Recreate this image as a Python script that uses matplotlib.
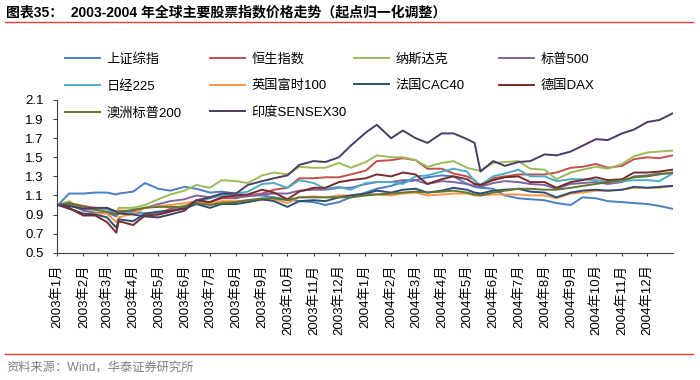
"""
2003-2004 global equity indices, rebased to 1 at the start of 2003.
"""

import matplotlib
matplotlib.use("Agg")
import matplotlib.dates as mdates
import matplotlib.pyplot as plt
import pandas as pd
from matplotlib.lines import Line2D
from matplotlib.ticker import FuncFormatter

plt.rcParams["font.family"] = ["Liberation Sans", "Noto Sans CJK SC"]
plt.rcParams["axes.unicode_minus"] = False

# --- data (semi-monthly samples) ---
DATES = [
    "2003-01-02", "2003-01-15", "2003-02-01", "2003-02-15", "2003-03-01",
    "2003-03-12", "2003-03-15", "2003-04-01", "2003-04-15", "2003-05-01",
    "2003-05-15", "2003-06-01", "2003-06-15", "2003-07-01", "2003-07-15",
    "2003-08-01", "2003-08-15", "2003-09-01", "2003-09-15", "2003-10-01",
    "2003-10-15", "2003-11-01", "2003-11-15", "2003-12-01", "2003-12-15",
    "2004-01-02", "2004-01-15", "2004-02-01", "2004-02-15", "2004-03-01",
    "2004-03-15", "2004-04-01", "2004-04-15", "2004-05-01", "2004-05-10",
    "2004-05-17", "2004-06-01", "2004-06-15", "2004-07-01", "2004-07-15",
    "2004-08-01", "2004-08-15", "2004-09-01", "2004-09-15", "2004-10-01",
    "2004-10-15", "2004-11-01", "2004-11-15", "2004-12-01", "2004-12-15",
    "2004-12-31",
]

shanghai = [1.00, 1.12, 1.12, 1.13, 1.13, 1.11, 1.12, 1.14, 1.23, 1.17, 1.15,
            1.19, 1.17, 1.13, 1.14, 1.12, 1.10, 1.10, 1.08, 1.06, 1.04,
            1.03, 1.00, 1.03, 1.08, 1.13, 1.17, 1.20, 1.24, 1.26, 1.29,
            1.31, 1.30, 1.22, 1.19, 1.18, 1.17, 1.10, 1.07, 1.06, 1.05,
            1.02, 1.00, 1.08, 1.07, 1.04, 1.03, 1.02, 1.01, 0.99, 0.96]
hangseng = [1.00, 1.02, 0.99, 0.97, 0.96, 0.93, 0.94, 0.94, 0.91, 0.91, 0.96,
            0.99, 1.03, 1.03, 1.07, 1.07, 1.10, 1.12, 1.16, 1.18, 1.28,
            1.28, 1.29, 1.29, 1.32, 1.36, 1.46, 1.47, 1.49, 1.47, 1.38,
            1.38, 1.33, 1.30, 1.26, 1.19, 1.28, 1.30, 1.32, 1.32, 1.32,
            1.34, 1.39, 1.40, 1.43, 1.39, 1.41, 1.48, 1.50, 1.49, 1.52]
nasdaq = [1.00, 1.04, 0.95, 0.95, 0.97, 0.92, 0.97, 0.97, 1.00, 1.06, 1.11,
          1.15, 1.21, 1.18, 1.26, 1.25, 1.23, 1.31, 1.34, 1.32, 1.40,
          1.39, 1.39, 1.44, 1.39, 1.45, 1.52, 1.50, 1.50, 1.47, 1.40,
          1.44, 1.46, 1.39, 1.37, 1.36, 1.44, 1.45, 1.46, 1.38, 1.37,
          1.27, 1.34, 1.37, 1.40, 1.38, 1.43, 1.51, 1.55, 1.56, 1.57]
sp500 = [1.00, 1.01, 0.94, 0.92, 0.92, 0.88, 0.92, 0.94, 0.97, 1.01, 1.04,
         1.06, 1.10, 1.08, 1.10, 1.08, 1.09, 1.11, 1.12, 1.12, 1.15,
         1.16, 1.16, 1.18, 1.18, 1.22, 1.24, 1.24, 1.26, 1.26, 1.22,
         1.25, 1.24, 1.22, 1.20, 1.19, 1.23, 1.25, 1.24, 1.22, 1.21,
         1.17, 1.22, 1.23, 1.24, 1.22, 1.24, 1.30, 1.31, 1.33, 1.33]
nikkei = [1.00, 0.99, 0.96, 0.97, 0.96, 0.90, 0.92, 0.92, 0.91, 0.90, 0.94,
          0.98, 1.03, 1.07, 1.10, 1.12, 1.14, 1.22, 1.23, 1.18, 1.26,
          1.23, 1.17, 1.19, 1.16, 1.23, 1.24, 1.24, 1.22, 1.30, 1.31,
          1.35, 1.38, 1.35, 1.25, 1.21, 1.30, 1.33, 1.37, 1.30, 1.30,
          1.25, 1.27, 1.27, 1.26, 1.24, 1.25, 1.26, 1.26, 1.25, 1.33]
ftse = [1.00, 0.97, 0.89, 0.91, 0.91, 0.82, 0.87, 0.91, 0.97, 0.99, 1.00,
        1.02, 1.04, 1.01, 1.04, 1.04, 1.05, 1.05, 1.06, 1.02, 1.08,
        1.09, 1.08, 1.10, 1.10, 1.12, 1.11, 1.10, 1.12, 1.13, 1.10,
        1.11, 1.12, 1.12, 1.10, 1.10, 1.11, 1.11, 1.11, 1.10, 1.10,
        1.07, 1.12, 1.13, 1.15, 1.15, 1.16, 1.18, 1.18, 1.18, 1.20]
cac40 = [1.00, 0.96, 0.91, 0.90, 0.87, 0.76, 0.85, 0.83, 0.91, 0.93, 0.94,
         0.96, 1.01, 0.97, 1.01, 1.01, 1.03, 1.06, 1.04, 0.98, 1.04,
         1.05, 1.04, 1.08, 1.10, 1.12, 1.15, 1.13, 1.16, 1.17, 1.13,
         1.15, 1.18, 1.16, 1.13, 1.12, 1.15, 1.16, 1.17, 1.14, 1.13,
         1.08, 1.13, 1.15, 1.16, 1.15, 1.16, 1.19, 1.18, 1.19, 1.20]
dax = [1.00, 0.97, 0.89, 0.89, 0.82, 0.71, 0.83, 0.79, 0.89, 0.90, 0.93,
       0.97, 1.05, 1.03, 1.08, 1.10, 1.11, 1.16, 1.13, 1.06, 1.14,
       1.18, 1.18, 1.24, 1.26, 1.28, 1.32, 1.30, 1.34, 1.32, 1.22,
       1.27, 1.30, 1.27, 1.22, 1.21, 1.26, 1.29, 1.30, 1.24, 1.24,
       1.18, 1.24, 1.26, 1.29, 1.26, 1.27, 1.34, 1.34, 1.35, 1.37]
asx200 = [1.00, 1.02, 0.98, 0.95, 0.93, 0.90, 0.92, 0.95, 0.97, 0.98, 0.98,
          0.98, 1.02, 1.00, 1.02, 1.03, 1.05, 1.07, 1.07, 1.05, 1.08,
          1.08, 1.08, 1.08, 1.08, 1.10, 1.11, 1.12, 1.13, 1.14, 1.13,
          1.14, 1.15, 1.13, 1.11, 1.10, 1.13, 1.15, 1.17, 1.17, 1.16,
          1.16, 1.18, 1.20, 1.22, 1.24, 1.26, 1.29, 1.30, 1.32, 1.34]
sensex = [1.00, 0.99, 0.96, 0.97, 0.97, 0.93, 0.91, 0.90, 0.88, 0.87, 0.90,
          0.94, 1.05, 1.08, 1.12, 1.12, 1.21, 1.25, 1.28, 1.31, 1.42,
          1.46, 1.45, 1.50, 1.62, 1.76, 1.84, 1.70, 1.78, 1.70, 1.65,
          1.75, 1.75, 1.69, 1.65, 1.35, 1.46, 1.41, 1.45, 1.46, 1.53,
          1.52, 1.56, 1.62, 1.69, 1.68, 1.75, 1.79, 1.87, 1.89, 1.96]

NAMES = ["上证综指", "恒生指数", "纳斯达克", "标普500", "日经225",
         "英国富时100", "法国CAC40", "德国DAX", "澳洲标普200", "印度SENSEX30"]
SERIES = [shanghai, hangseng, nasdaq, sp500, nikkei,
          ftse, cac40, dax, asx200, sensex]
COLORS = ["#4A7EC6", "#C0504D", "#9BBB59", "#8064A2", "#4BACC6",
          "#F79646", "#2C4D75", "#772C2A", "#5F7530", "#4D3B62"]

W, H = 700, 380
RED = "#E8402A"

fig = plt.figure(figsize=(W / 100, H / 100), dpi=100)
ax = fig.add_axes([57.3 / W, 1 - 252.7 / H, (672.7 - 57.3) / W, (252.7 - 100) / H])

dates = pd.to_datetime(DATES)
lines = []
for name, vals, color in zip(NAMES, SERIES, COLORS):
    (ln,) = ax.plot(dates, vals, color=color, linewidth=1.4, label=name)
    lines.append(ln)

ax.set_xlim(pd.Timestamp("2003-01-01"), pd.Timestamp("2004-12-31"))
ax.set_ylim(0.5, 2.1)
ax.set_yticks([0.5 + 0.2 * i for i in range(9)])
ax.yaxis.set_major_formatter(FuncFormatter(lambda v, _: f"{v:.1f}"))

ax.xaxis.set_major_locator(mdates.MonthLocator())
ax.xaxis.set_major_formatter(
    FuncFormatter(lambda v, _: "{0.year}年{0.month}月".format(mdates.num2date(v)))
)
for lab in ax.get_xticklabels():
    lab.set_rotation(90)

ax.tick_params(axis="x", labelsize=9.5, length=2.5, pad=6, color="#404040")
ax.tick_params(axis="y", labelsize=9.5, length=3, pad=7, color="#404040")
for side in ("top", "right"):
    ax.spines[side].set_visible(False)
for side in ("left", "bottom"):
    ax.spines[side].set_color("#404040")
    ax.spines[side].set_linewidth(0.8)

# legend: four fixed-width columns, filled row by row
col_x = [65, 210, 354, 499]
for j, x in enumerate(col_x):
    idx = list(range(j, len(lines), 4))
    fig.legend(
        [lines[i] for i in idx],
        [NAMES[i] for i in idx],
        loc="upper left",
        bbox_to_anchor=(x / W, 1 - 53 / H),
        frameon=False,
        fontsize=9.5,
        handlelength=2.65,
        handletextpad=0.5,
        labelspacing=1.1,
        borderpad=0,
        borderaxespad=0,
    )

# title, rules and source note
fig.text(6 / W, 1 - 12 / H,
         "图表35：  2003-2004 年全球主要股票指数价格走势（起点归一化调整）",
         fontsize=10, fontweight="bold", va="center", ha="left")
fig.add_artist(Line2D([5 / W, 693 / W], [1 - 22 / H] * 2, color=RED, lw=1))
fig.add_artist(Line2D([5 / W, 693 / W], [1 - 354 / H] * 2, color=RED, lw=1))
fig.text(6 / W, 1 - 368 / H, "资料来源：Wind，华泰证券研究所",
         fontsize=8.8, color="#7F7F7F", va="center", ha="left")

fig.savefig("out.png", dpi=100)
